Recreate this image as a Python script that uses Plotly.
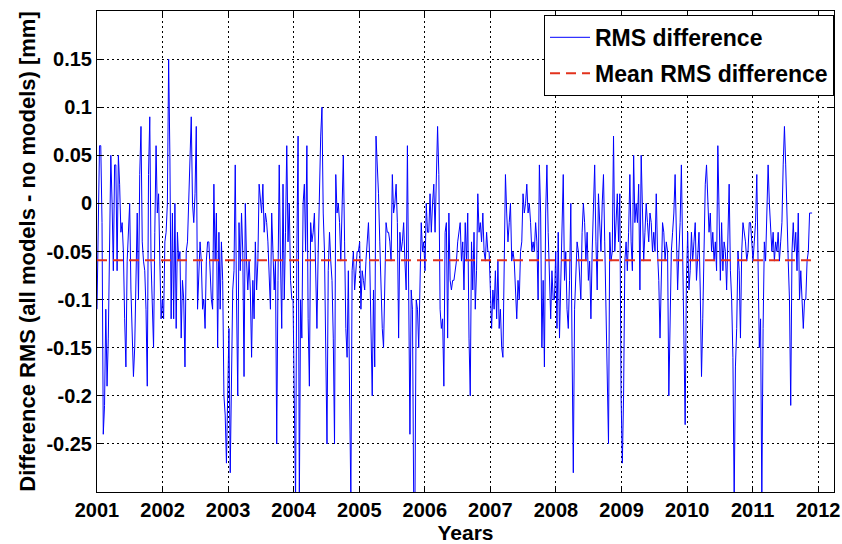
import pandas as pd
import plotly.graph_objects as go

# Weekly RMS difference values [mm] (one list per year)
rms_2001 = [-0.11, -0.02, 0.06, 0.06, -0.02, -0.24, -0.21, -0.11, -0.19, -0.14, -0.03, 0.05, 0.0, -0.07, 0.04, 0.04, -0.07, 0.05, 0.02, -0.03, -0.02, -0.05, -0.12, -0.17, -0.06, -0.02, 0.0, -0.09, -0.15, -0.18, -0.15, -0.08, -0.01, -0.1, 0.03, 0.08, -0.04, -0.06, -0.07, -0.11, -0.19, 0.03, 0.09, -0.06, -0.1, -0.15, -0.03, 0.06, -0.01, 0.01, -0.06, -0.12]
rms_2002 = [-0.1, -0.12, -0.04, -0.03, 0.0, 0.15, 0.05, -0.12, -0.01, -0.12, 0.0, -0.13, -0.03, -0.06, -0.05, -0.14, -0.08, -0.1, -0.17, -0.05, -0.04, 0.0, 0.05, 0.09, 0.0, -0.02, 0.01, 0.08, -0.11, -0.06, -0.04, -0.06, -0.11, -0.1, -0.13, -0.06, -0.04, -0.04, -0.07, -0.1, -0.11, 0.02, -0.06, -0.01, -0.15, -0.03, -0.11, -0.04, -0.08, -0.2, -0.22, -0.27]
rms_2003 = [-0.2, -0.13, -0.28, -0.2, -0.09, -0.07, 0.04, -0.1, -0.2, -0.02, -0.07, -0.01, -0.05, -0.18, 0.0, -0.06, -0.09, -0.06, -0.09, -0.16, -0.08, -0.12, -0.04, -0.09, -0.06, 0.02, 0.0, -0.01, 0.02, -0.03, -0.01, -0.02, -0.04, -0.08, -0.11, -0.01, -0.05, -0.09, -0.06, -0.25, -0.08, 0.04, -0.06, -0.13, 0.02, -0.1, -0.03, 0.06, -0.04, 0.0, -0.08, -0.1]
rms_2004 = [-0.1, -0.18, -0.31, -0.05, 0.07, -0.31, -0.1, -0.14, 0.0, 0.02, -0.05, 0.06, -0.12, -0.19, -0.02, -0.04, -0.03, -0.01, -0.09, -0.13, -0.05, 0.03, 0.07, 0.1, -0.01, -0.05, -0.17, -0.25, -0.07, -0.03, -0.06, -0.08, -0.14, -0.25, 0.03, -0.01, 0.0, -0.02, -0.06, -0.01, 0.05, -0.04, -0.13, -0.16, -0.07, -0.2, -0.31, -0.07, -0.05, -0.09, -0.07, -0.05]
rms_2005 = [-0.05, -0.04, -0.11, -0.07, -0.08, -0.09, -0.06, -0.04, -0.02, -0.06, -0.13, -0.2, -0.09, -0.17, 0.07, 0.04, 0.01, -0.04, -0.09, -0.13, -0.15, -0.07, -0.02, -0.03, -0.03, -0.04, -0.06, 0.03, -0.01, 0.0, 0.02, -0.02, -0.14, -0.03, -0.05, -0.04, -0.02, -0.06, -0.09, 0.06, -0.1, -0.24, -0.09, -0.11, -0.31, -0.31, -0.1, -0.11, -0.15, -0.07, -0.02, -0.05]
rms_2006 = [-0.04, -0.07, 0.0, -0.03, -0.03, 0.01, -0.03, 0.0, 0.02, -0.03, 0.02, 0.08, 0.03, -0.11, -0.13, -0.12, -0.19, -0.03, -0.02, -0.14, -0.01, -0.08, -0.09, -0.08, -0.08, -0.07, -0.06, -0.04, -0.03, -0.02, -0.06, -0.04, -0.09, -0.02, -0.06, -0.01, -0.14, -0.2, -0.04, -0.09, -0.03, -0.11, -0.07, 0.01, -0.03, -0.02, -0.04, -0.01, -0.05, -0.06, -0.03, -0.05]
rms_2007 = [-0.05, -0.09, -0.13, -0.09, -0.11, -0.07, -0.12, -0.06, -0.13, -0.11, -0.15, -0.16, -0.08, 0.03, -0.01, -0.04, -0.02, 0.0, -0.06, -0.05, -0.06, -0.09, -0.12, -0.08, -0.1, -0.05, -0.04, 0.01, -0.01, 0.0, 0.02, -0.01, 0.0, -0.02, -0.05, -0.04, -0.05, -0.02, -0.04, -0.1, 0.04, -0.01, -0.15, -0.08, -0.17, -0.01, 0.04, -0.03, -0.09, -0.12, -0.07, -0.1]
rms_2008 = [-0.1, -0.05, -0.13, -0.03, -0.14, -0.07, -0.04, 0.03, -0.08, -0.05, -0.11, -0.13, -0.08, 0.0, -0.15, -0.28, -0.11, -0.06, -0.04, -0.05, -0.07, -0.1, -0.03, 0.0, -0.02, -0.06, -0.03, -0.08, -0.06, -0.12, -0.05, -0.01, 0.04, -0.04, -0.09, 0.01, -0.03, -0.05, 0.0, 0.03, -0.04, -0.12, -0.16, -0.25, -0.03, -0.06, -0.05, 0.07, -0.05, -0.02, 0.01, -0.04]
rms_2009 = [0.01, -0.2, -0.27, -0.2, -0.06, -0.04, -0.07, -0.03, 0.03, -0.04, -0.07, 0.05, -0.02, 0.0, -0.02, 0.02, -0.09, 0.05, -0.01, -0.06, -0.03, 0.0, -0.02, -0.04, -0.01, -0.02, -0.05, -0.03, -0.05, 0.01, -0.05, -0.08, -0.14, -0.07, -0.02, -0.03, -0.06, -0.04, -0.05, -0.2, -0.13, -0.05, -0.03, -0.01, 0.03, -0.05, -0.09, -0.05, -0.02, 0.04, -0.05, -0.1]
rms_2010 = [-0.23, -0.08, -0.03, -0.09, -0.07, -0.03, -0.06, -0.04, -0.02, -0.08, -0.05, -0.03, -0.09, -0.18, -0.12, -0.04, 0.02, 0.04, -0.01, -0.03, -0.01, -0.05, -0.03, -0.06, -0.04, -0.07, 0.06, -0.04, -0.08, -0.02, -0.07, -0.04, -0.05, -0.09, -0.03, 0.02, -0.07, -0.1, -0.16, -0.31, -0.17, -0.13, -0.05, -0.07, -0.14, -0.05, -0.02, -0.03, -0.04, -0.06, -0.05, -0.02]
rms_2011 = [-0.02, -0.04, -0.06, -0.04, -0.02, 0.03, -0.08, -0.15, -0.12, -0.31, -0.13, -0.04, -0.06, -0.01, 0.04, 0.0, -0.02, -0.05, -0.03, -0.06, -0.04, -0.05, -0.03, -0.06, -0.04, -0.02, 0.04, 0.08, 0.04, -0.03, -0.06, -0.1, -0.21, -0.05, -0.02, -0.05, -0.03, -0.07, -0.01, -0.1, -0.07, -0.1, -0.13, -0.1, -0.1, -0.06, -0.05, -0.01, -0.01, -0.01]

mean_rms = -0.059  # mean RMS difference [mm]

year_ticks = list(range(2001, 2013))
y_ticks = [-0.25, -0.2, -0.15, -0.1, -0.05, 0, 0.05, 0.1, 0.15]
y_ticklabels = ["-0.25", "-0.2", "-0.15", "-0.1", "-0.05", "0", "0.05", "0.1", "0.15"]

rms = (rms_2001 + rms_2002 + rms_2003 + rms_2004 + rms_2005 + rms_2006
       + rms_2007 + rms_2008 + rms_2009 + rms_2010 + rms_2011)
dates = pd.date_range("2001-01-01", periods=len(rms), freq="7D")

FONT = "Liberation Sans, Arial, Helvetica, sans-serif"

fig = go.Figure()
fig.add_trace(go.Scatter(
    x=dates, y=rms, mode="lines", name="RMS difference", legendgroup="a",
    line=dict(color="#0000ff", width=1),
))
fig.add_trace(go.Scatter(
    x=[dates[0], dates[-1]], y=[mean_rms, mean_rms], mode="lines",
    name="Mean RMS difference", legendgroup="b",
    line=dict(color="#e2321c", width=2, dash="10px,6px"),
))

axis_common = dict(
    showline=True, linecolor="black", linewidth=1, mirror="ticks",
    ticks="inside", ticklen=5, tickcolor="black",
    showgrid=True, gridcolor="black", gridwidth=1, griddash="2px,3px",
    zeroline=False,
    tickfont=dict(family=FONT, size=20, color="black", weight="bold"),
)

fig.update_layout(
    width=842, height=544,
    margin=dict(l=97, r=8, t=11, b=52, autoexpand=False),
    paper_bgcolor="white", plot_bgcolor="white",
    font=dict(family=FONT, color="black", weight="bold"),
    showlegend=True,
    legend=dict(
        x=1.0, y=0.992, xanchor="right", yanchor="top",
        bgcolor="white", bordercolor="black", borderwidth=1,
        font=dict(family=FONT, size=23, color="black", weight="bold"),
        itemwidth=40, tracegroupgap=3,
    ),
    xaxis=dict(
        axis_common,
        type="date",
        range=["2001-01-01", "2012-03-29"],
        tickvals=[f"{y}-01-01" for y in year_ticks],
        ticktext=[str(y) for y in year_ticks],
        title=dict(text="Years", standoff=2,
                   font=dict(family=FONT, size=21, color="black", weight="bold")),
    ),
    yaxis=dict(
        axis_common,
        range=[-0.3, 0.2],
        tickvals=y_ticks,
        ticktext=y_ticklabels,
        title=dict(text="Difference RMS (all models - no models) [mm]", standoff=4,
                   font=dict(family=FONT, size=22, color="black", weight="bold")),
    ),
)

fig.write_html("out.html")
